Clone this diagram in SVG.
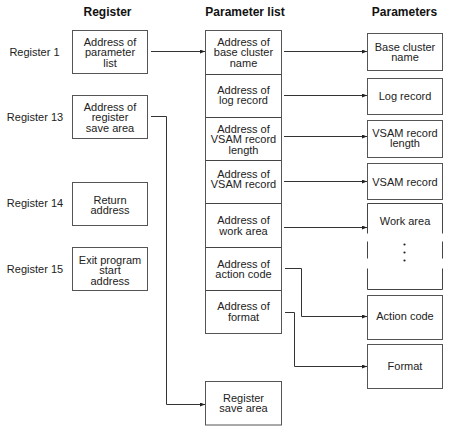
<svg xmlns="http://www.w3.org/2000/svg" width="450" height="431" viewBox="0 0 450 431">
<defs>
<style>
text{font-family:"Liberation Sans",Arial,sans-serif;font-size:11px;fill:#222;text-anchor:middle}
.h{font-weight:bold;font-size:12px;fill:#111}
.box{fill:#fff;stroke:#555;stroke-width:1}
.ln{fill:none;stroke:#444;stroke-width:1}
.c{fill:none;stroke:#333;stroke-width:1;marker-end:url(#ah)}
</style>
<marker id="ah" markerUnits="userSpaceOnUse" markerWidth="6" markerHeight="5" refX="5" refY="2" orient="auto">
<path d="M0,0 L5,2 L0,4 z" fill="#222"/>
</marker>
</defs>
<rect width="450" height="431" fill="#fff"/>

<g id="headers">
<text class="h" x="107.5" y="16">Register</text>
<text class="h" x="245" y="16">Parameter list</text>
<text class="h" x="404.5" y="16">Parameters</text>
</g>

<g id="register-labels">
<text x="34.5" y="55.5">Register 1</text>
<text x="35" y="121">Register 13</text>
<text x="35" y="207">Register 14</text>
<text x="35" y="273">Register 15</text>
</g>

<g id="reg1">
<rect class="box" x="72.5" y="30.5" width="75" height="43"/>
<text x="110" y="45.5">Address of</text>
<text x="110" y="56">parameter</text>
<text x="110" y="66.5">list</text>
</g>
<g id="reg13">
<rect class="box" x="72.5" y="95.5" width="75" height="43"/>
<text x="110" y="110.5">Address of</text>
<text x="110" y="121">register</text>
<text x="110" y="131.5">save area</text>
</g>
<g id="reg14">
<rect class="box" x="72.5" y="182.5" width="75" height="43"/>
<text x="110" y="203.5">Return</text>
<text x="110" y="214">address</text>
</g>
<g id="reg15">
<rect class="box" x="72.5" y="247.5" width="75" height="43"/>
<text x="110" y="263.5">Exit program</text>
<text x="110" y="274">start</text>
<text x="110" y="284.5">address</text>
</g>

<g id="parameter-list">
<rect class="box" x="205.5" y="30.5" width="76" height="303"/>
<path class="ln" d="M205.5,74.5H281.5M205.5,117.5H281.5M205.5,160.5H281.5M205.5,203.5H281.5M205.5,247.5H281.5M205.5,290.5H281.5"/>
</g>
<g id="pl-base">
<text x="243.5" y="45.5">Address of</text>
<text x="243.5" y="56">base cluster</text>
<text x="243.5" y="66.5">name</text>
</g>
<g id="pl-log">
<text x="243.5" y="93.5">Address of</text>
<text x="243.5" y="104">log record</text>
</g>
<g id="pl-vsamlen">
<text x="243.5" y="132.5">Address of</text>
<text x="243.5" y="143">VSAM record</text>
<text x="243.5" y="153.5">length</text>
</g>
<g id="pl-vsam">
<text x="243.5" y="177.5">Address of</text>
<text x="243.5" y="188">VSAM record</text>
</g>
<g id="pl-work">
<text x="243.5" y="224">Address of</text>
<text x="243.5" y="234.5">work area</text>
</g>
<g id="pl-action">
<text x="243.5" y="267.5">Address of</text>
<text x="243.5" y="278">action code</text>
</g>
<g id="pl-format">
<text x="243.5" y="310">Address of</text>
<text x="243.5" y="320.5">format</text>
</g>

<g id="save-area">
<rect class="box" x="205.5" y="381.5" width="76" height="43.5"/>
<text x="243.5" y="401.5">Register</text>
<text x="243.5" y="412">save area</text>
</g>

<g id="p-base">
<rect class="box" x="367.5" y="33.5" width="75" height="37"/>
<text x="405" y="50.5">Base cluster</text>
<text x="405" y="61">name</text>
</g>
<g id="p-log">
<rect class="box" x="367.5" y="78.5" width="75" height="36"/>
<text x="405" y="99.5">Log record</text>
</g>
<g id="p-vsamlen">
<rect class="box" x="367.5" y="120.5" width="75" height="37"/>
<text x="405" y="136.5">VSAM record</text>
<text x="405" y="147">length</text>
</g>
<g id="p-vsam">
<rect class="box" x="367.5" y="163.5" width="75" height="36"/>
<text x="405" y="185.5">VSAM record</text>
</g>
<g id="p-work">
<path class="ln" d="M367.5,233.5V203.5H442.5V233.5M367.5,241.5V258.5M442.5,241.5V258.5M367.5,268.5V289.5H442.5V268.5"/>
<text x="405" y="224.5">Work area</text>
<circle cx="404.5" cy="244.5" r="1.1" fill="#222"/>
<circle cx="404.5" cy="252.5" r="1.1" fill="#222"/>
<circle cx="404.5" cy="260.5" r="1.1" fill="#222"/>
</g>
<g id="p-action">
<rect class="box" x="367.5" y="295.5" width="75" height="44"/>
<text x="405" y="320">Action code</text>
</g>
<g id="p-format">
<rect class="box" x="367.5" y="344.5" width="75" height="44"/>
<text x="405" y="369.5">Format</text>
</g>

<g id="connectors">
<path class="c" d="M151,51.5H205"/>
<path class="c" d="M151,116.5H166.5V404.5H205"/>
<path class="c" d="M284,51.5H367"/>
<path class="c" d="M284,95.5H367"/>
<path class="c" d="M284,136.5H367"/>
<path class="c" d="M284,181.5H367"/>
<path class="c" d="M284,227.5H367"/>
<path class="c" d="M285,268.5H301.5V316.5H367"/>
<path class="c" d="M285,312.5H294.5V366.5H367"/>
</g>
</svg>
